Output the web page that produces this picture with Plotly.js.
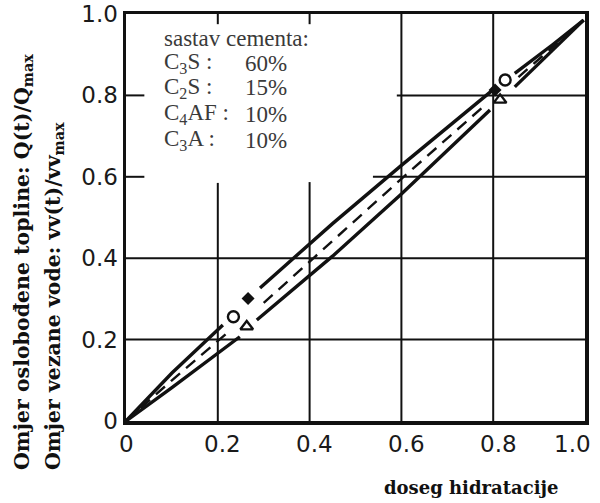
<!DOCTYPE html>
<html>
<head>
<meta charset="utf-8">
<script src="https://cdn.plot.ly/plotly-3.0.1.min.js"></script>
<style>
  html, body { margin: 0; padding: 0; background: #fff; }
  #chart { width: 600px; height: 503px; }
</style>
</head>
<body>
<div id="chart"></div>
<script>
// Heat release ratio / bound water ratio versus degree of hydration
const tickValues = [0, 0.2, 0.4, 0.6, 0.8, 1.0];
const tickLabels = ['0', '0.2', '0.4', '0.6', '0.8', '1.0'];

// upper solid curve (null = break around the markers)
const upperX = [0, 0.1, 0.211, null, 0.292, 0.45, 0.6, 0.804, null, 0.847, 0.93, 0.997];
const upperY = [0, 0.118, 0.236, null, 0.327, 0.485, 0.628, 0.818, null, 0.854, 0.925, 0.985];

// dashed middle curve
const middleX = [0, 0.1, 0.22, null, 0.3, 0.45, 0.6, 0.78, null, 0.855, 0.93, 0.997];
const middleY = [0, 0.1, 0.216, null, 0.29, 0.443, 0.595, 0.774, null, 0.845, 0.92, 0.985];

// lower solid curve
const lowerX = [0, 0.1, 0.248, null, 0.285, 0.45, 0.6, 0.793, null, 0.847, 0.93, 0.997];
const lowerY = [0, 0.082, 0.207, null, 0.248, 0.405, 0.558, 0.764, null, 0.821, 0.912, 0.985];

// measured points
const circleX = [0.234, 0.826];
const circleY = [0.256, 0.838];
const diamondX = [0.266, 0.804];
const diamondY = [0.301, 0.813];
const triangleX = [0.263, 0.815];
const triangleY = [0.232, 0.789];

// cement composition box
const compTitle = 'sastav cementa:';
const compNames = ['C<sub>3</sub>S :', 'C<sub>2</sub>S :', 'C<sub>4</sub>AF :', 'C<sub>3</sub>A :'];
const compShares = ['60%', '15%', '10%', '10%'];

const ink = '#111111';

const traces = [
  { x: upperX, y: upperY, mode: 'lines', line: { color: ink, width: 3.4 }, connectgaps: false, hoverinfo: 'skip' },
  { x: middleX, y: middleY, mode: 'lines', line: { color: ink, width: 2.4, dash: '12px,8px' }, connectgaps: false, hoverinfo: 'skip' },
  { x: lowerX, y: lowerY, mode: 'lines', line: { color: ink, width: 3.4 }, connectgaps: false, hoverinfo: 'skip' },
  { x: circleX, y: circleY, mode: 'markers', marker: { symbol: 'circle-open', size: 11, color: ink, line: { width: 2.4, color: ink } } },
  { x: diamondX, y: diamondY, mode: 'markers', marker: { symbol: 'diamond', size: 10, color: ink } },
  { x: triangleX, y: triangleY, mode: 'markers', marker: { symbol: 'triangle-up-open', size: 11, color: ink, line: { width: 2.4, color: ink } } }
];

// partial grid lines and short inner ticks
const gridStyle = { color: ink, width: 2 };
const seg = (x0, y0, x1, y1) => ({ type: 'line', xref: 'x', yref: 'y', x0, y0, x1, y1, line: gridStyle, layer: 'below' });
const shapes = [
  seg(0.2, 0, 0.2, 0.585), seg(0.2, 1, 0.2, 0.975),
  seg(0.4, 0, 0.4, 0.587), seg(0.4, 1, 0.4, 0.975),
  seg(0.6, 0, 0.6, 1), seg(0.8, 0, 0.8, 1),
  seg(0, 0.2, 1, 0.2), seg(0, 0.4, 1, 0.4),
  seg(0.538, 0.6, 1, 0.6), seg(0, 0.6, 0.04, 0.6),
  seg(0.59, 0.8, 1, 0.8), seg(0, 0.8, 0.04, 0.8)
];

// pixel helpers for the plot area (126..585 x 14..421)
const px = v => (v - 126) / 459;
const py = v => (421 - v) / 407;

const boxFont = { family: 'Liberation Serif, serif', size: 23, color: '#3a3a3a' };
const rowY = [63, 88, 114, 140];
const annotations = [
  { text: compTitle, x: px(162), y: py(38), xref: 'paper', yref: 'paper', xanchor: 'left', yanchor: 'middle', showarrow: false, font: boxFont }
];
compNames.forEach((n, i) => {
  annotations.push({ text: n, x: px(162), y: py(rowY[i]), xref: 'paper', yref: 'paper', xanchor: 'left', yanchor: 'middle', showarrow: false, font: boxFont });
  annotations.push({ text: compShares[i], x: px(289), y: py(rowY[i]), xref: 'paper', yref: 'paper', xanchor: 'right', yanchor: 'middle', showarrow: false, font: boxFont });
});

// x tick labels, placed at the tick values on the x scale
const tickFont = { family: 'DejaVu Sans, sans-serif', size: 23, color: '#1a1a1a' };
tickValues.forEach((v, i) => {
  const last = i === tickValues.length - 1;
  annotations.push({
    text: tickLabels[i], x: v, y: py(444), xref: 'x', yref: 'paper',
    xanchor: last ? 'right' : 'center', xshift: last ? 8 : (i === 0 ? 0 : 5),
    yanchor: 'middle', showarrow: false, font: tickFont
  });
});

const titleFont = { family: 'DejaVu Serif, serif', size: 20.5, color: ink, weight: 'bold' };
annotations.push(
  { text: 'Omjer oslobođene topline: Q(t)/Q<sub>max</sub>', x: px(23), y: py(472), xref: 'paper', yref: 'paper', xanchor: 'center', yanchor: 'bottom', textangle: -90, showarrow: false, font: titleFont },
  { text: 'Omjer vezane vode: vv(t)/vv<sub>max</sub>', x: px(54), y: py(472), xref: 'paper', yref: 'paper', xanchor: 'center', yanchor: 'bottom', textangle: -90, showarrow: false, font: titleFont },
  { text: 'doseg hidratacije', x: px(471), y: py(487), xref: 'paper', yref: 'paper', xanchor: 'center', yanchor: 'middle', showarrow: false, font: { family: 'DejaVu Serif, serif', size: 18, color: ink, weight: 'bold' } }
);

const layout = {
  width: 600, height: 503,
  margin: { l: 126, r: 15, t: 14, b: 82, pad: 0 },
  paper_bgcolor: '#ffffff', plot_bgcolor: '#ffffff',
  showlegend: false,
  xaxis: {
    range: [0, 1], tickvals: tickValues, showticklabels: false,
    showgrid: false, zeroline: false, showline: true, mirror: true, linecolor: ink, linewidth: 3.5,
    ticks: '', fixedrange: true
  },
  yaxis: {
    range: [0, 1], tickvals: tickValues, ticktext: tickLabels, tickfont: tickFont,
    showgrid: false, zeroline: false, showline: true, mirror: true, linecolor: ink, linewidth: 3.5,
    ticks: '', ticklabelstandoff: 0, fixedrange: true
  },
  shapes: shapes,
  annotations: annotations
};

Plotly.newPlot('chart', traces, layout, { displayModeBar: false, staticPlot: true });
</script>
</body>
</html>
